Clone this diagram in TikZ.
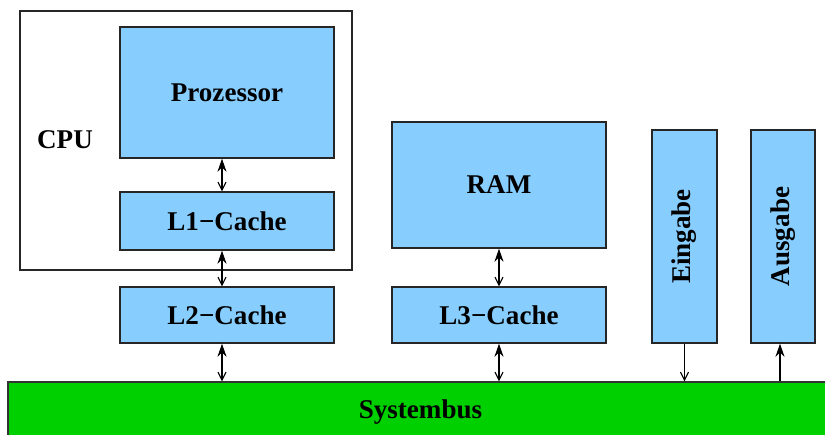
\documentclass[tikz,border=0pt]{standalone}
\usepackage{fontspec}
\setmainfont{Liberation Serif}
\definecolor{boxblue}{RGB}{135, 206, 255}
\definecolor{busgreen}{RGB}{0, 208, 0}
\usetikzlibrary{arrows.meta, positioning, calc}

\begin{document}
\begin{tikzpicture}[
  unit/.style={draw=black!85, line width=0.8pt, fill=boxblue, inner sep=0pt,
    font=\fontsize{15.4}{18}\selectfont\bfseries},
  link/.style={line width=0.6pt, {Stealth[length=2.6mm,width=1.8mm]}-{Straight Barb[length=1.6mm,width=1.6mm]}},
  down/.style={line width=0.6pt, -{Straight Barb[length=1.6mm,width=1.6mm]}},
  up/.style={line width=0.6pt, -{Stealth[length=2.6mm,width=1.8mm]}}
]
  \useasboundingbox (0,0) rectangle (16.5,8.68);

  % CPU frame
  \node[draw=black!85, line width=0.8pt, fill=white, minimum width=6.64cm, minimum height=5.18cm,
    inner sep=0pt] (cpu) at (3.72, 5.87) {};
  \node[font=\fontsize{15.4}{18}\selectfont\bfseries] (cpulabel) at (1.30, 5.88) {CPU};

  % units
  \node[unit, minimum width=4.28cm, minimum height=2.62cm] (proz) at (4.54, 6.83) {Prozessor};
  \node[unit, minimum width=4.28cm, minimum height=1.16cm] (l1) at (4.54, 4.26) {L1−Cache};
  \node[unit, minimum width=4.28cm, minimum height=1.12cm] (l2) at (4.54, 2.38) {L2−Cache};
  \node[unit, minimum width=4.28cm, minimum height=2.52cm] (ram) at (9.98, 4.98) {RAM};
  \node[unit, minimum width=4.28cm, minimum height=1.12cm] (l3) at (9.98, 2.38) {L3−Cache};
  \node[unit, minimum width=1.30cm, minimum height=4.26cm] (ein) at (13.69, 3.95) {};
  \node[rotate=90, font=\fontsize{15.4}{18}\selectfont\bfseries] (einlabel) at (ein.center) {Eingabe};
  \node[unit, minimum width=1.28cm, minimum height=4.26cm] (aus) at (15.66, 3.95) {};
  \node[rotate=90, font=\fontsize{15.4}{18}\selectfont\bfseries] (auslabel) at (aus.center) {Ausgabe};

  % system bus
  \node[draw=black!80, line width=0.8pt, fill=busgreen, minimum width=16.5cm, minimum height=1.2cm,
    inner sep=0pt, font=\fontsize{15.4}{18}\selectfont\bfseries] (bus) at (8.41, 0.44) {Systembus};

  % connections
  \coordinate (p1) at ($(proz.south)+(-0.1,0)$);
  \coordinate (c1) at ($(l1.north)+(-0.1,0)$);
  \coordinate (c1b) at ($(l1.south)+(-0.1,0)$);
  \coordinate (c2) at ($(l2.north)+(-0.1,0)$);
  \coordinate (c2b) at ($(l2.south)+(-0.1,0)$);
  \coordinate (a1) at ($(aus.south)+(-0.06,0)$);
  \draw[link] (p1) -- (c1);
  \draw[link] (c1b) -- (c2);
  \draw[link] (c2b) -- (c2b |- bus.north);
  \draw[link] (ram.south) -- (l3.north);
  \draw[link] (l3.south) -- (l3.south |- bus.north);
  \draw[down] (ein.south) -- (ein.south |- bus.north);
  \draw[up] (a1 |- bus.north) -- (a1);
\end{tikzpicture}
\end{document}
